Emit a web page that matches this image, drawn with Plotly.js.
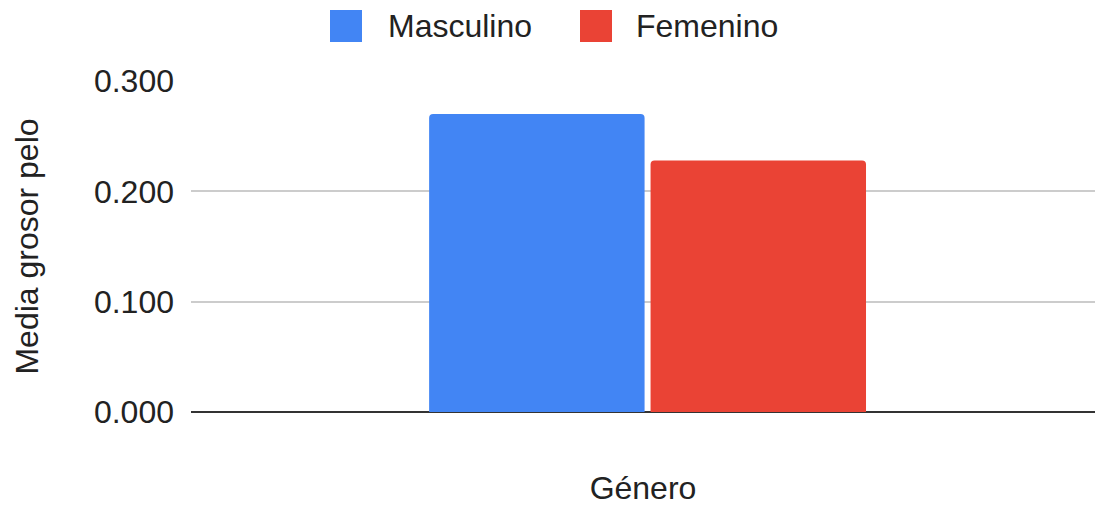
<!DOCTYPE html>
<html>
<head>
<meta charset="utf-8">
<script src="https://cdn.plot.ly/plotly-3.0.1.min.js"></script>
<style>
  html, body { margin: 0; padding: 0; background: #fff; }
  #chart { width: 1095px; height: 506px; }
</style>
</head>
<body>
<div id="chart"></div>
<script>
// Media grosor pelo por género
const categories = ['Género'];
const seriesNames = ['Masculino', 'Femenino'];
const masculino = [0.270];
const femenino = [0.228];
const colors = ['#4285F4', '#EA4335'];
const yTicks = [0, 0.1, 0.2, 0.3];

const font = '"Liberation Sans", Arial, sans-serif';
const txt = { family: font, size: 32, color: '#222' };

const W = 1095, H = 506;
const margin = { l: 191, r: 0, t: 81, b: 94 };
const plotW = W - margin.l - margin.r;
const plotH = H - margin.t - margin.b;
// pixel -> paper helpers (legend is drawn by hand, the swatches are big)
const px = x => (x - margin.l) / plotW;
const py = y => (H - margin.b - y) / plotH;

const data = [masculino, femenino].map((vals, i) => ({
    type: 'bar',
    name: seriesNames[i],
    x: categories,
    y: vals,
    marker: { color: colors[i], cornerradius: 4 },
    hoverinfo: 'y'
}));

// legend: swatch left edges and label starts, in pixels
const legendSwatchX = [330, 580];
const legendTextX = [386, 634];
const shapes = seriesNames.map((n, i) => ({
    type: 'rect',
    xref: 'paper', yref: 'paper',
    x0: px(legendSwatchX[i]), x1: px(legendSwatchX[i] + 32),
    y0: py(42), y1: py(10),
    fillcolor: colors[i],
    line: { width: 0 },
    layer: 'above'
}));
const annotations = seriesNames.map((n, i) => ({
    text: n,
    xref: 'paper', yref: 'paper',
    x: px(legendTextX[i]), y: py(26),
    xanchor: 'left', yanchor: 'middle',
    showarrow: false,
    font: txt
}));

const layout = {
    width: W,
    height: H,
    margin: margin,
    paper_bgcolor: '#fff',
    plot_bgcolor: '#fff',
    font: txt,
    bargap: 0.515,
    bargroupgap: 0.027,
    showlegend: false,
    shapes: shapes,
    annotations: annotations,
    xaxis: {
        range: [-0.5, 0.49],
        showticklabels: false,
        showgrid: false,
        zeroline: false,
        showline: false,
        ticks: '',
        title: { text: 'Género', font: txt, standoff: 70 }
    },
    yaxis: {
        range: [0, 0.3],
        tickvals: yTicks,
        tickformat: '.3f',
        showgrid: true,
        gridcolor: '#cccccc',
        gridwidth: 2,
        zeroline: true,
        zerolinecolor: '#333333',
        zerolinewidth: 2,
        ticks: '',
        ticklabelstandoff: 16,
        tickfont: txt,
        title: { text: 'Media grosor pelo', font: txt, standoff: 45 }
    }
};

Plotly.newPlot('chart', data, layout, { displayModeBar: false, responsive: false });
</script>
</body>
</html>
